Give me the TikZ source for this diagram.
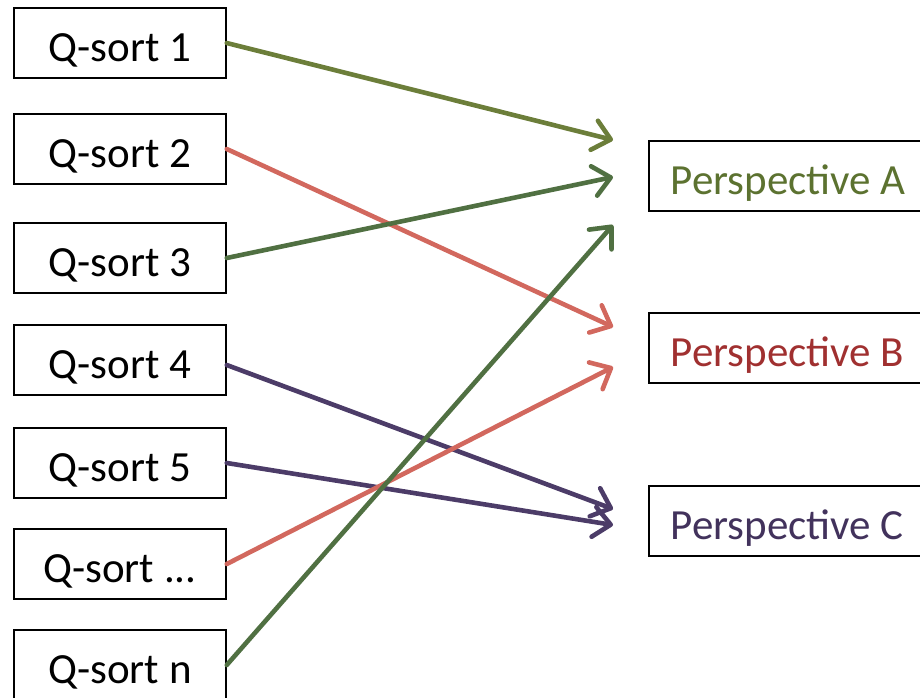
\documentclass[tikz,border=0pt]{standalone}
\usepackage{fontspec}
\setmainfont{Carlito}
\usetikzlibrary{arrows.meta}

\definecolor{olivegreen}{RGB}{108,126,58}
\definecolor{darkgreen}{RGB}{80,112,66}
\definecolor{salmonred}{RGB}{210,104,94}
\definecolor{plum}{RGB}{76,60,104}
\definecolor{textgreen}{RGB}{92,114,48}
\definecolor{textred}{RGB}{160,48,48}
\definecolor{textplum}{RGB}{66,50,92}

\tikzset{
  sortbox/.style={draw=black,line width=1.5pt,minimum width=212pt,minimum height=70pt,
    inner sep=0pt,text height=37pt,text depth=0pt,font=\fontsize{43}{50}\selectfont},
  perspbox/.style={draw=black,line width=1.5pt,minimum height=70pt,anchor=west,
    inner xsep=22pt,inner ysep=0pt,text height=36pt,text depth=0pt,font=\fontsize{43}{50}\selectfont},
  link/.style={line width=4.6pt,-{Straight Barb[length=17pt,width=30pt,line cap=round,line join=round]},line cap=round}
}

\begin{document}
\begin{tikzpicture}[x=1pt,y=-1pt]
  \useasboundingbox (0,0) rectangle (920,698);

  \node [sortbox] (q1) at (120,43) {Q-sort 1};
  \node [sortbox] (q2) at (120,149) {Q-sort 2};
  \node [sortbox] (q3) at (120,258) {Q-sort 3};
  \node [sortbox] (q4) at (120,360) {Q-sort 4};
  \node [sortbox] (q5) at (120,463) {Q-sort 5};
  \node [sortbox] (q6) at (120,564) {Q-sort ...};
  \node [sortbox] (q7) at (120,665) {Q-sort n};

  \node [perspbox,text=textgreen] (pa) at (648,176) {Perspective A};
  \node [perspbox,text=textred] (pb) at (648,348) {Perspective B};
  \node [perspbox,text=textplum] (pc) at (648,521) {Perspective C};

  % arrow tips in front of the perspectives
  \coordinate (a1) at (613,140);
  \coordinate (a2) at (613,177);
  \coordinate (a3) at (613,225);
  \coordinate (b1) at (613,327);
  \coordinate (b2) at (613,367);
  \coordinate (c1) at (613,509);
  \coordinate (c2) at (613,525);

  \draw [link,olivegreen] (q1.east) -- (a1);
  \draw [link,salmonred] (q2.east) -- (b1);
  \draw [link,darkgreen] (q3.east) -- (a2);
  \draw [link,plum] ([yshift=-5pt]q4.east) -- (c1);
  \draw [link,plum] (q5.east) -- (c2);
  \draw [link,salmonred] (q6.east) -- (b2);
  \draw [link,darkgreen] (q7.east) -- (a3);
\end{tikzpicture}
\end{document}
